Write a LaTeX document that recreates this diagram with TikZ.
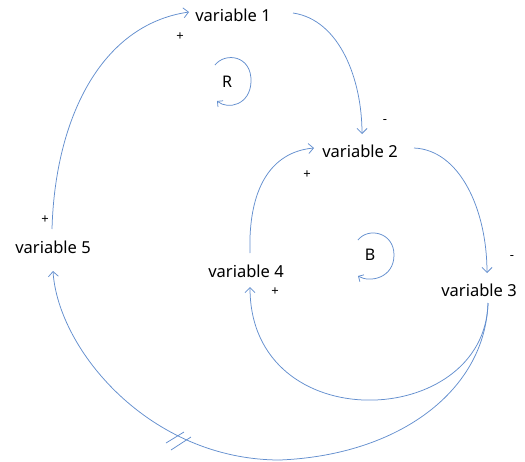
\documentclass[tikz,border=0pt]{standalone}
\usepackage{fontspec}
\setmainfont{Noto Sans}
\usetikzlibrary{arrows.meta}
\definecolor{linkblue}{RGB}{98,142,206}
\tikzset{
  var/.style={font=\fontsize{16.5}{18}\selectfont, inner sep=1pt},
  sgn/.style={font=\fontsize{13}{14}\selectfont, inner sep=0pt},
  link/.style={draw=linkblue, line width=0.75pt, -{Straight Barb[length=5pt,width=10pt,line width=0.75pt]}},
  loopmark/.style={font=\fontsize{16}{18}\selectfont, inner sep=1pt},
}
\begin{document}
\begin{tikzpicture}[x=1pt,y=-1pt]
\useasboundingbox (0,0) rectangle (525,461);
% variables
\node[var] (v1) at (233,15) {variable 1};
\node[var] (v2) at (360,151) {variable 2};
\node[var] (v3) at (479,290) {variable 3};
\node[var] (v4) at (246,271) {variable 4};
\node[var] (v5) at (53,247) {variable 5};
% loop markers
\node[loopmark] (r) at (227,82) {R};
\node[loopmark] (b) at (370,255) {B};
% anchor coordinates
\coordinate (v5t) at (52,229);
\coordinate (v1l) at (189,12);
\coordinate (v1r) at (293,13);
\coordinate (v2t) at (362,134);
\coordinate (v2l) at (314,148);
\coordinate (v2r) at (414,148);
\coordinate (v3t) at (487,273);
\coordinate (v3b) at (488,303);
\coordinate (v4t) at (250,253);
\coordinate (v4b) at (250,287);
\coordinate (v5b) at (53,271);
\coordinate (bot) at (280,460);
% links
\draw[link] (v5t) .. controls (55,120) and (100,25) .. (v1l);
\draw[link] (v1r) .. controls (340,20) and (362,80) .. (v2t);
\draw[link] (v2r) .. controls (460,150) and (487,210) .. (v3t);
\draw[link] (v4t) .. controls (248,190) and (270,152) .. (v2l);
\draw[link] (v3b) .. controls (485,430) and (250,440) .. (v4b);
\draw[draw=linkblue, line width=0.75pt] (v3b) .. controls (485,390) and (400,455) .. (bot);
\draw[link] (bot) .. controls (150,460) and (58,350) .. (v5b);
% delay marks
\draw[draw=linkblue, line width=0.75pt] (166,443) -- (184,432);
\draw[draw=linkblue, line width=0.75pt] (171,450) -- (191,437);
% loop arcs
\draw[draw=linkblue, line width=0.75pt, -{Straight Barb[length=4pt,width=8pt,line width=0.75pt]}]
  (215,65) .. controls (225,52) and (252,55) .. (251,82) .. controls (250,105) and (228,110) .. (217,101);
\draw[draw=linkblue, line width=0.75pt, -{Straight Barb[length=4pt,width=8pt,line width=0.75pt]}]
  (358,240) .. controls (368,227) and (394,232) .. (394,255) .. controls (394,278) and (370,283) .. (358,276);
% polarity signs
\node[sgn] (p1) at (180,37) {+};
\node[sgn] (p2) at (45,220) {+};
\node[sgn] (p3) at (307,175) {+};
\node[sgn] (p4) at (275,292) {+};
\node[sgn] (m1) at (385,122) {-};
\node[sgn] (m2) at (512,258) {-};
\end{tikzpicture}
\end{document}
